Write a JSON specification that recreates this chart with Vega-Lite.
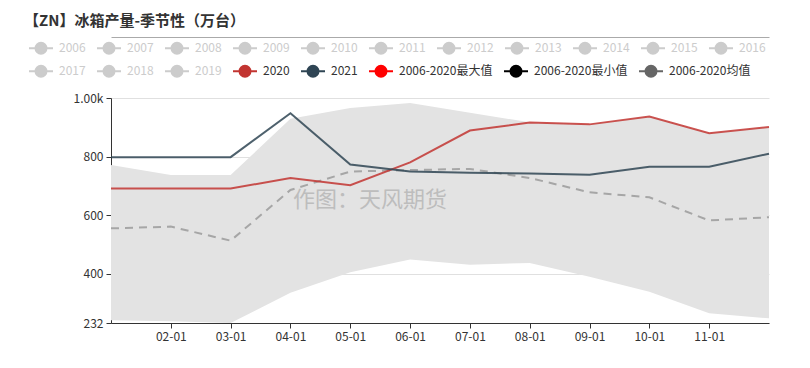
{
  "$schema": "https://vega.github.io/schema/vega-lite/v6.json",
  "width": 658,
  "height": 225,
  "autosize": {"type": "none"},
  "padding": {"left": 111, "top": 98, "right": 41, "bottom": 45},
  "background": "white",
  "title": {
    "text": "【ZN】冰箱产量-季节性（万台）",
    "anchor": "start",
    "frame": "group",
    "dx": -87,
    "offset": 8,
    "fontSize": 15,
    "fontWeight": "bold",
    "font": "Noto Sans CJK SC",
    "color": "#333333"
  },
  "config": {
    "view": {"stroke": null},
    "font": "Noto Sans CJK SC",
    "axis": {"labelFont": "Noto Sans CJK SC", "labelFontSize": 12, "labelColor": "#333333"},
    "legend": {
      "orient": "none",
      "direction": "horizontal",
      "title": null,
      "padding": 0,
      "symbolType": "M-2.4,0L2.4,0M1.1,0A1.1,1.1,0,1,1,-1.1,0A1.1,1.1,0,1,1,1.1,0Z",
      "symbolSize": 100,
      "symbolStrokeWidth": 2,
      "labelFontSize": 12,
      "labelFont": "Noto Sans CJK SC",
      "labelOffset": 12,
      "columnPadding": 7,
      "gridAlign": "each"
    }
  },
  "datasets": {
    "band": [
      {"month": 1, "min": 241, "max": 771},
      {"month": 2, "min": 238, "max": 737},
      {"month": 3, "min": 232, "max": 737},
      {"month": 4, "min": 335, "max": 929},
      {"month": 5, "min": 405, "max": 966},
      {"month": 6, "min": 449, "max": 983},
      {"month": 7, "min": 431, "max": 950},
      {"month": 8, "min": 437, "max": 917},
      {"month": 9, "min": 390, "max": 910},
      {"month": 10, "min": 339, "max": 937},
      {"month": 11, "min": 265, "max": 880},
      {"month": 12, "min": 248, "max": 901}
    ],
    "mean": [
      {"month": 1, "value": 555},
      {"month": 2, "value": 561},
      {"month": 3, "value": 513},
      {"month": 4, "value": 686},
      {"month": 5, "value": 749},
      {"month": 6, "value": 754},
      {"month": 7, "value": 758},
      {"month": 8, "value": 727},
      {"month": 9, "value": 678},
      {"month": 10, "value": 661},
      {"month": 11, "value": 582},
      {"month": 12, "value": 593}
    ],
    "lines": [
      {"series": "2020", "month": 1, "value": 691},
      {"series": "2020", "month": 2, "value": 691},
      {"series": "2020", "month": 3, "value": 691},
      {"series": "2020", "month": 4, "value": 727},
      {"series": "2020", "month": 5, "value": 702},
      {"series": "2020", "month": 6, "value": 780},
      {"series": "2020", "month": 7, "value": 889},
      {"series": "2020", "month": 8, "value": 916},
      {"series": "2020", "month": 9, "value": 910},
      {"series": "2020", "month": 10, "value": 937},
      {"series": "2020", "month": 11, "value": 880},
      {"series": "2020", "month": 12, "value": 901},
      {"series": "2021", "month": 1, "value": 798},
      {"series": "2021", "month": 2, "value": 798},
      {"series": "2021", "month": 3, "value": 798},
      {"series": "2021", "month": 4, "value": 948},
      {"series": "2021", "month": 5, "value": 773},
      {"series": "2021", "month": 6, "value": 749},
      {"series": "2021", "month": 7, "value": 745},
      {"series": "2021", "month": 8, "value": 742},
      {"series": "2021", "month": 9, "value": 738},
      {"series": "2021", "month": 10, "value": 765},
      {"series": "2021", "month": 11, "value": 765},
      {"series": "2021", "month": 12, "value": 810}
    ],
    "mark": [
      {"label": "作图：天风期货"}
    ]
  },
  "layer": [
    {
      "data": {"name": "band"},
      "mark": {"type": "area", "color": "#e3e3e3", "opacity": 1},
      "encoding": {
        "x": {
          "field": "month", "type": "quantitative",
          "scale": {"domain": [1, 12], "nice": false, "zero": false},
          "axis": {"orient": "top", "offset": 61, "labels": false, "ticks": false, "grid": false, "title": null, "domainColor": "#aaaaaa", "domainWidth": 1}
        },
        "y": {
          "field": "min", "type": "quantitative",
          "scale": {"domain": [232, 1000], "nice": false, "zero": false},
          "axis": {
            "values": [232, 400, 600, 800, 1000],
            "labelExpr": "datum.value == 1000 ? '1.00k' : datum.label",
            "grid": true, "gridColor": "#e0e0e0",
            "domainColor": "#333333", "tickColor": "#333333", "tickSize": 5,
            "labelPadding": 3, "title": null
          }
        },
        "y2": {"field": "max"}
      }
    },
    {
      "data": {"name": "lines"},
      "mark": {"type": "point", "opacity": 0, "filled": true},
      "encoding": {
        "x": {"field": "month", "type": "quantitative", "axis": null},
        "y": {"field": "value", "type": "quantitative"},
        "fill": {
          "field": "series", "type": "nominal",
          "scale": {
            "domain": ["2006", "2007", "2008", "2009", "2010", "2011", "2012", "2013", "2014", "2015", "2016"],
            "range": ["#cccccc", "#cccccc", "#cccccc", "#cccccc", "#cccccc", "#cccccc", "#cccccc", "#cccccc", "#cccccc", "#cccccc", "#cccccc"]
          },
          "legend": {
            "legendX": -76,
            "legendY": -56,
            "columns": 11,
            "encode": {
              "symbols": {"update": {"fill": {"value": "#cccccc"}, "stroke": {"value": "#cccccc"}, "opacity": {"value": 1}, "strokeWidth": {"value": 2}}},
              "labels": {"update": {"fill": {"value": "#cccccc"}}}
            }
          }
        }
      }
    },
    {
      "data": {"name": "lines"},
      "mark": {"type": "point", "opacity": 0, "filled": true},
      "encoding": {
        "x": {"field": "month", "type": "quantitative", "axis": null},
        "y": {"field": "value", "type": "quantitative"},
        "color": {
          "field": "series", "type": "nominal",
          "scale": {
            "domain": ["2017", "2018", "2019", "2020", "2021", "2006-2020最大值", "2006-2020最小值", "2006-2020均值"],
            "range": ["#cccccc", "#cccccc", "#cccccc", "#c23531", "#2f4554", "#ff0000", "#000000", "#666666"]
          },
          "legend": {
            "legendX": -76,
            "legendY": -33,
            "columns": 8,
            "encode": {
              "symbols": {"update": {"fill": {"scale": "color", "field": "value"}, "stroke": {"scale": "color", "field": "value"}, "opacity": {"value": 1}, "strokeWidth": {"value": 2}}},
              "labels": {"update": {"fill": {"signal": "datum.index <= 2 ? '#cccccc' : '#333333'"}}}
            }
          }
        }
      }
    },
    {
      "data": {"name": "mark"},
      "mark": {"type": "text", "fontSize": 22, "color": "#bdbdbd", "align": "center", "baseline": "middle", "font": "Noto Sans CJK SC"},
      "encoding": {
        "x": {"datum": 5.33, "type": "quantitative", "axis": null},
        "y": {"datum": 652, "type": "quantitative"},
        "text": {"field": "label"}
      }
    },
    {
      "data": {"name": "mean"},
      "mark": {"type": "line", "color": "#a6a6a6", "strokeWidth": 2, "strokeDash": [8, 6]},
      "encoding": {
        "x": {"field": "month", "type": "quantitative", "axis": null},
        "y": {"field": "value", "type": "quantitative"}
      }
    },
    {
      "data": {"name": "lines"},
      "mark": {"type": "line", "strokeWidth": 2, "opacity": 0.85},
      "encoding": {
        "x": {
          "field": "month", "type": "quantitative",
          "axis": {
            "orient": "bottom",
            "values": [2, 3, 4, 5, 6, 7, 8, 9, 10, 11],
            "labelExpr": "(datum.value < 10 ? '0' : '') + datum.value + '-01'",
            "grid": false, "domainColor": "#333333", "tickColor": "#333333", "tickSize": 5,
            "labelPadding": 3, "labelOverlap": false, "title": null
          }
        },
        "y": {"field": "value", "type": "quantitative"},
        "stroke": {
          "field": "series", "type": "nominal",
          "scale": {"domain": ["2020", "2021"], "range": ["#c23531", "#2f4554"]},
          "legend": null
        }
      }
    }
  ],
  "resolve": {"axis": {"x": "independent"}}
}
